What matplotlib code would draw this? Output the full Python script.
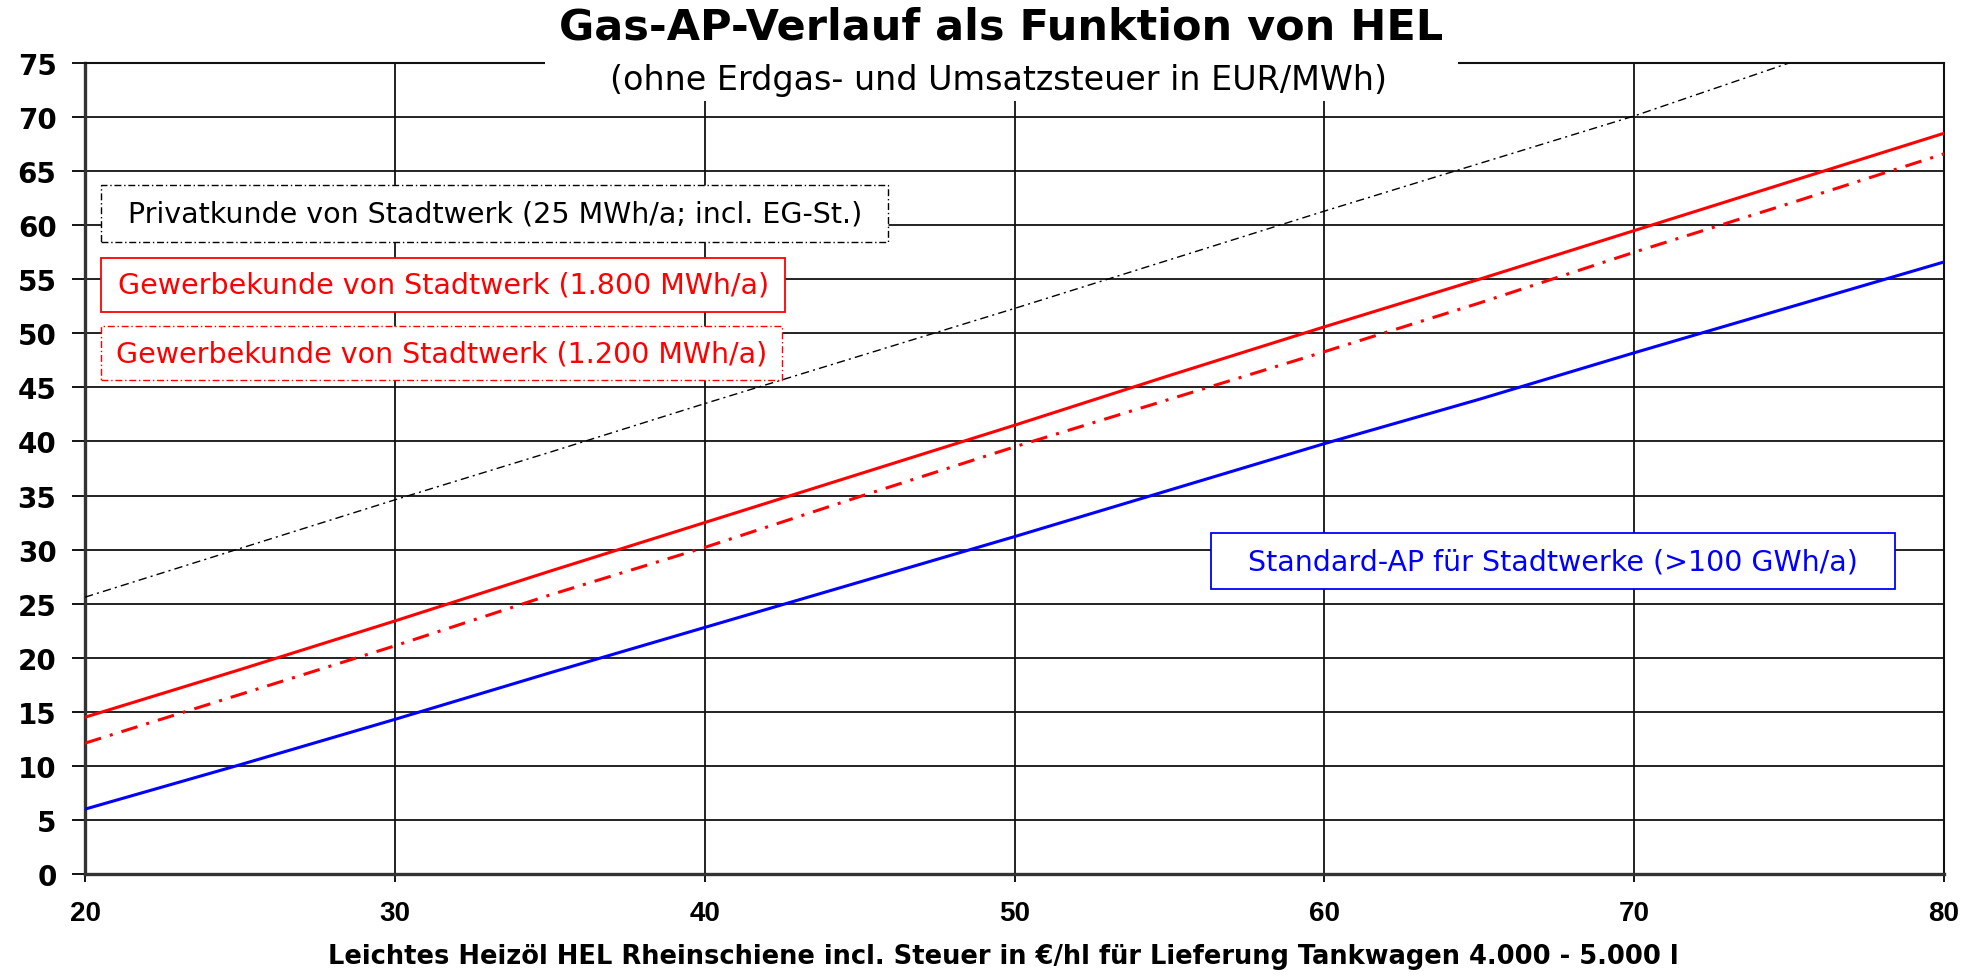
import matplotlib.pyplot as plt
from matplotlib.patches import Rectangle

# HEL price (EUR/hl) and gas working price (EUR/MWh)
hel = [20, 25, 30, 35, 40, 45, 50, 55, 60, 65, 70, 75, 80]
privat = [25.6, 30.1, 34.6, 39.0, 43.5, 47.9, 52.3, 56.8, 61.3, 65.7, 70.1, 75.0, 79.4]
gewerbe_1800 = [14.5, 18.9, 23.4, 28.0, 32.5, 37.0, 41.5, 46.1, 50.6, 55.0, 59.5, 64.0, 68.5]
gewerbe_1200 = [12.1, 16.6, 21.1, 25.8, 30.2, 34.9, 39.5, 43.9, 48.3, 52.8, 57.5, 62.0, 66.6]
standard_ap = [6.0, 10.1, 14.3, 18.6, 22.8, 27.0, 31.2, 35.5, 39.8, 43.9, 48.2, 52.4, 56.6]

labels = [
    "Privatkunde von Stadtwerk (25 MWh/a; incl. EG-St.)",
    "Gewerbekunde von Stadtwerk (1.800 MWh/a)",
    "Gewerbekunde von Stadtwerk (1.200 MWh/a)",
    "Standard-AP für Stadtwerke (>100 GWh/a)",
]
x_ticks = [20, 30, 40, 50, 60, 70, 80]
y_ticks = list(range(0, 80, 5))

title = "Gas-AP-Verlauf als Funktion von HEL"
subtitle = "(ohne Erdgas- und Umsatzsteuer in EUR/MWh)"
xlabel = "Leichtes Heizöl HEL Rheinschiene incl. Steuer in €/hl für Lieferung Tankwagen 4.000 - 5.000 l"


def main():
    fig = plt.figure(figsize=(19.86, 9.78), dpi=100)
    ax = fig.add_axes([0.0428, 0.1053, 0.9361, 0.8293])

    ax.set_xlim(20, 80)
    ax.set_ylim(0, 75)
    ax.set_xticks(x_ticks)
    ax.set_yticks(y_ticks)
    ax.grid(True, color="#111111", linewidth=1.3)
    ax.set_axisbelow(True)

    # lines
    ax.plot(hel, privat, color="black", lw=1.0, ls=(0, (6, 3, 1.5, 3)), zorder=4)
    ax.plot(hel, gewerbe_1800, color="#ff0000", lw=2.2, zorder=4)
    ax.plot(hel, gewerbe_1200, color="#ff0000", lw=2.2, ls=(0, (5.5, 3, 1, 3)), zorder=4)
    ax.plot(hel, standard_ap, color="#0000ff", lw=2.2, zorder=4)

    # label boxes (x0, y0, x1, y1 in data units)
    boxes = [
        ((20.52, 58.49, 45.93, 63.73), "black", (0, (5, 2, 1, 2)), 1.0),
        ((20.52, 51.93, 42.60, 57.01), "#ff0000", "-", 1.3),
        ((20.52, 45.65, 42.51, 50.64), "#ff0000", (0, (5, 2, 1, 2)), 1.0),
        ((56.33, 26.39, 78.41, 31.50), "#0000ff", "-", 1.3),
    ]
    for label, ((x0, y0, x1, y1), col, ls, lw) in zip(labels, boxes):
        ax.add_patch(Rectangle((x0, y0), x1 - x0, y1 - y0, facecolor="white",
                               edgecolor=col, linestyle=ls, linewidth=lw, zorder=5))
        ax.text((x0 + x1) / 2, (y0 + y1) / 2, label, color=col, fontsize=20.5,
                family="DejaVu Sans", ha="center", va="center", zorder=6)

    # white area behind subtitle, cutting the top gridline
    ax.add_patch(Rectangle((34.85, 71.5), 64.3 - 34.85, 5.0, facecolor="white",
                           edgecolor="none", clip_on=False, zorder=3))

    for side in ["left", "bottom"]:
        ax.spines[side].set_color("#333333")
        ax.spines[side].set_linewidth(2.4)
    for side in ["right", "top"]:
        ax.spines[side].set_color("#111111")
        ax.spines[side].set_linewidth(1.5)

    ax.tick_params(axis="y", direction="out", length=9.5, width=1.3, pad=11,
                   labelsize=20)
    ax.tick_params(axis="x", direction="out", length=6, width=1.3, pad=13,
                   labelsize=20)
    for t in ax.get_yticklabels():
        t.set_fontfamily("DejaVu Sans")
        t.set_fontweight("bold")
    for t in ax.get_xticklabels():
        t.set_fontfamily("Liberation Sans")
        t.set_fontweight("bold")

    fig.text(0.504, 0.972, title, ha="center", va="center", fontsize=31,
             fontweight="bold", family="DejaVu Sans")
    fig.text(0.503, 0.918, subtitle, ha="center", va="center", fontsize=24,
             family="DejaVu Sans", zorder=10)
    fig.text(0.505, 0.0215, xlabel, ha="center", va="center", fontsize=18.5,
             fontweight="bold", family="DejaVu Sans")

    fig.savefig("out.png", dpi=100, facecolor="white")


if __name__ == "__main__":
    main()
